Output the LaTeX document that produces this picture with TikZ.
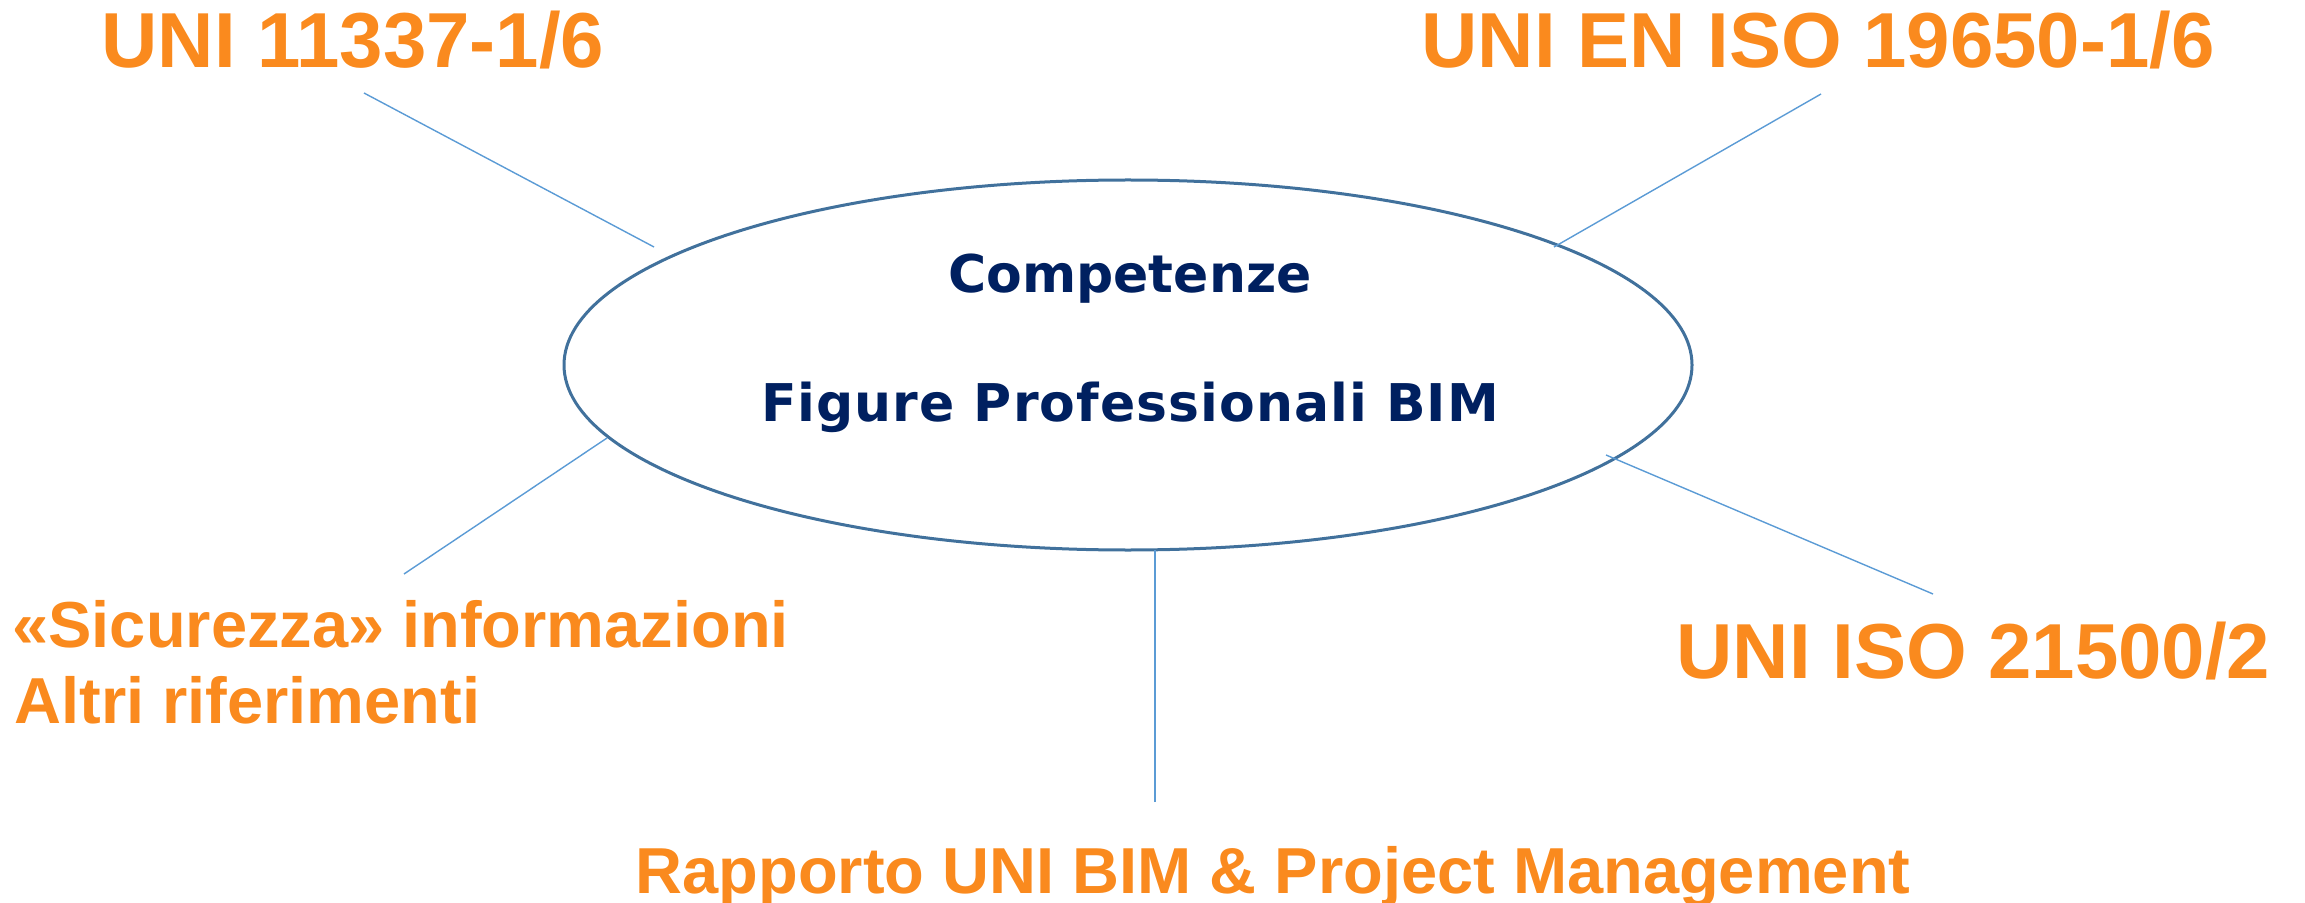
\documentclass[tikz,border=0pt]{standalone}
\usepackage{fontspec}
\setmainfont{Liberation Sans}
\newfontfamily\navyfam{DejaVu Sans}
\newfontfamily\navyfamsp{DejaVu Sans}[LetterSpace=2]
\usetikzlibrary{shapes.geometric}
\definecolor{orangetxt}{HTML}{FA8A1E}
\definecolor{navytxt}{HTML}{002060}
\definecolor{ellstroke}{HTML}{41719C}
\definecolor{linkcol}{HTML}{5B9BD5}
\tikzset{
  big/.style={inner sep=0pt, text=orangetxt, font=\bfseries\fontsize{39pt}{47pt}\selectfont},
  mid/.style={inner sep=0pt, text=orangetxt, font=\bfseries\fontsize{32.5pt}{39pt}\selectfont},
  navy/.style={inner sep=0pt, text=navytxt, font=\navyfam\bfseries\fontsize{26pt}{32pt}\selectfont},
  navysp/.style={inner sep=0pt, text=navytxt, font=\navyfamsp\bfseries\fontsize{26pt}{32pt}\selectfont},
  link/.style={draw=linkcol, line width=0.7pt},
  core/.style={draw=ellstroke, line width=1.5pt, ellipse, inner sep=0pt, minimum width=564pt, minimum height=185pt}
}
\begin{document}
\begin{tikzpicture}[x=0.5pt,y=-0.5pt]
\useasboundingbox (0,0) rectangle (2305,903);
\node[core] (ell) at (1128,365) {};
\node[navy, anchor=base] (t1) at (1130,293) {Competenze};
\node[navysp, anchor=base] (t2) at (1130,421) {Figure Professionali BIM};
\node[big, anchor=base west] (n1) at (101,68) {UNI 11337-1/6};
\node[big, anchor=base west] (n2) at (1421,68) {UNI EN ISO 19650-1/6};
\node[big, anchor=base west] (n4) at (1676,678) {UNI ISO 21500/2};
\node[mid, anchor=base west] (n3a) at (12,647) {«Sicurezza» informazioni};
\node[mid, anchor=base west] (n3b) at (14,723) {Altri riferimenti};
\node[mid, anchor=base] (n5) at (1273,893) {Rapporto UNI BIM \& Project Management};
\coordinate (a1) at (364,93);   \coordinate (b1) at (654,247);
\coordinate (a2) at (1821,94);  \coordinate (b2) at (1554,247);
\coordinate (a3) at (404,574);  \coordinate (b3) at (607,438);
\coordinate (a4) at (1933,594); \coordinate (b4) at (1606,455);
\coordinate (a5) at (1155,802); \coordinate (b5) at (1155,550);
\draw[link] (a1) -- (b1);
\draw[link] (a2) -- (b2);
\draw[link] (a3) -- (b3);
\draw[link] (a4) -- (b4);
\draw[link] (a5) -- (b5);
\end{tikzpicture}
\end{document}
